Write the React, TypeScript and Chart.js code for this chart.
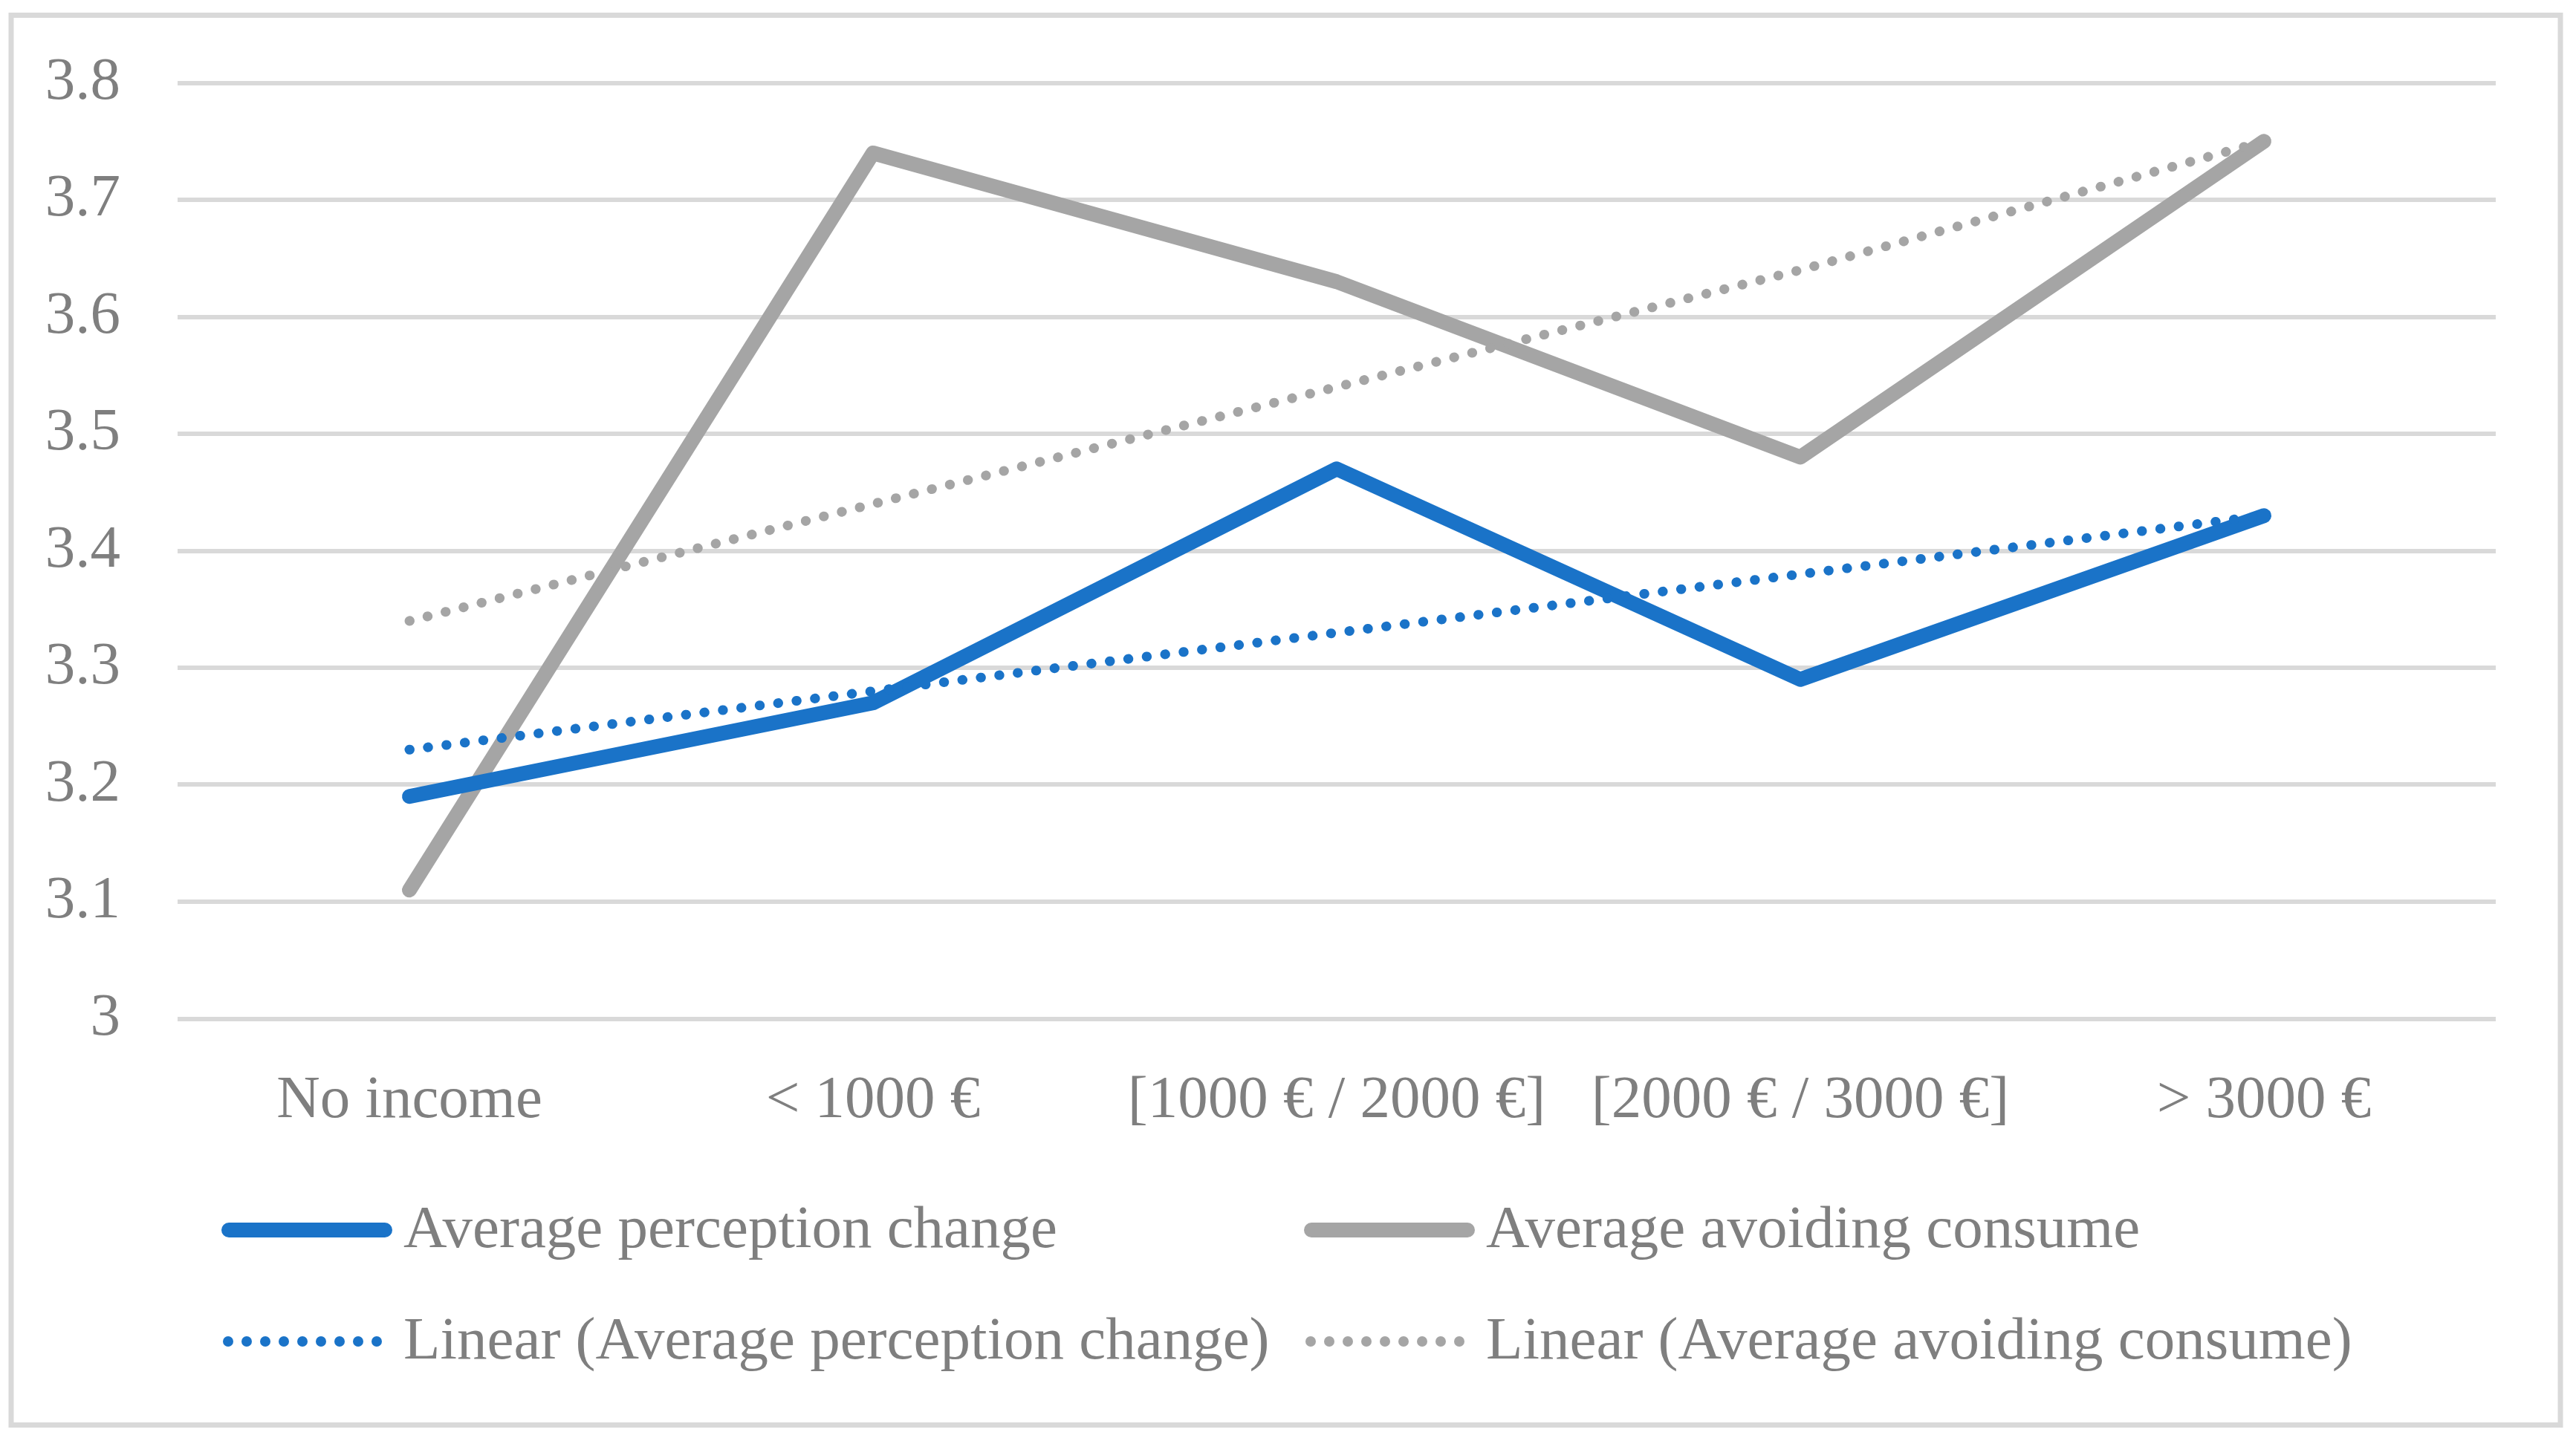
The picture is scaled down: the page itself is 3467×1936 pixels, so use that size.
import React, { useEffect, useRef } from 'react';
import { Chart, registerables } from 'chart.js';

Chart.register(...registerables);

const categories = ['No income', '< 1000 €', '[1000 € / 2000 €]', '[2000 € / 3000 €]', '> 3000 €'];
const perceptionChange = [3.19, 3.27, 3.47, 3.29, 3.43];
const avoidingConsume = [3.11, 3.74, 3.63, 3.48, 3.75];
const perceptionTrend = [3.23, 3.28, 3.33, 3.38, 3.43];
const avoidingTrend = [3.34, 3.44, 3.54, 3.64, 3.75];
const seriesLabels = [
  'Average perception change',
  'Average avoiding consume',
  'Linear (Average perception change)',
  'Linear (Average avoiding consume)',
];
const yMin = 3;
const yMax = 3.8;
const yStep = 0.1;

const W = 3467;
const H = 1936;
const FONT = "'Liberation Serif', 'Times New Roman', serif";
const FONT_SIZE = 81;
const TEXT = '#7f7f7f';
const BLUE = '#1a73c8';
const GRAY = '#a5a5a5';
const GRID = '#d9d9d9';

const framePlugin = {
  id: 'frame',
  beforeDraw(chart: any) {
    const ctx = chart.ctx;
    ctx.save();
    ctx.fillStyle = '#ffffff';
    ctx.fillRect(0, 0, chart.width, chart.height);
    ctx.strokeStyle = GRID;
    ctx.lineWidth = 7;
    ctx.strokeRect(15, 20.5, 3431, 1898);
    ctx.restore();
  },
};

const legendPlugin = {
  id: 'customLegend',
  afterDraw(chart: any) {
    const ctx = chart.ctx;
    const cols = [298, 1755];
    const rowMid = [1656, 1806];
    const rowBase = [1679, 1829];
    const layout = [
      { ds: 0, col: 0, row: 0 },
      { ds: 1, col: 1, row: 0 },
      { ds: 2, col: 0, row: 1 },
      { ds: 3, col: 1, row: 1 },
    ];
    ctx.save();
    layout.forEach(({ ds, col, row }) => {
      const d = chart.data.datasets[ds];
      const x = cols[col];
      const cy = rowMid[row];
      ctx.strokeStyle = d.borderColor;
      ctx.fillStyle = d.borderColor;
      if (d.borderDash && d.borderDash.length) {
        for (let i = 0; i < 9; i++) {
          ctx.beginPath();
          ctx.arc(x + 9 + i * 25, cy, 7, 0, Math.PI * 2);
          ctx.fill();
        }
      } else {
        ctx.lineWidth = d.borderWidth;
        ctx.lineCap = 'round';
        ctx.beginPath();
        ctx.moveTo(x + 10, cy);
        ctx.lineTo(x + 220, cy);
        ctx.stroke();
      }
      ctx.fillStyle = TEXT;
      ctx.font = `${FONT_SIZE}px ${FONT}`;
      ctx.textAlign = 'left';
      ctx.textBaseline = 'alphabetic';
      ctx.fillText(d.label, x + 245, rowBase[row]);
    });
    ctx.restore();
  },
};

export default function App() {
  const ref = useRef<HTMLCanvasElement | null>(null);

  useEffect(() => {
    if (!ref.current) return;
    const chart = new Chart(ref.current, {
      type: 'line',
      data: {
        labels: categories,
        datasets: [
          {
            label: seriesLabels[0],
            data: perceptionChange,
            borderColor: BLUE,
            backgroundColor: BLUE,
            borderWidth: 20,
            borderCapStyle: 'round',
            borderJoinStyle: 'round',
            pointRadius: 0,
            tension: 0,
            order: 1,
          },
          {
            label: seriesLabels[1],
            data: avoidingConsume,
            borderColor: GRAY,
            backgroundColor: GRAY,
            borderWidth: 20,
            borderCapStyle: 'round',
            borderJoinStyle: 'round',
            pointRadius: 0,
            tension: 0,
            order: 1,
          },
          {
            label: seriesLabels[2],
            data: perceptionTrend,
            borderColor: BLUE,
            backgroundColor: BLUE,
            borderWidth: 13,
            borderDash: [0.5, 24.5],
            borderCapStyle: 'round',
            pointRadius: 0,
            tension: 0,
            order: 0,
          },
          {
            label: seriesLabels[3],
            data: avoidingTrend,
            borderColor: GRAY,
            backgroundColor: GRAY,
            borderWidth: 13,
            borderDash: [0.5, 24.5],
            borderCapStyle: 'round',
            pointRadius: 0,
            tension: 0,
            order: 0,
          },
        ],
      },
      options: {
        responsive: false,
        animation: false,
        devicePixelRatio: 1,
        layout: { autoPadding: false, padding: { top: 111.5, right: 108, bottom: 0, left: 0 } },
        plugins: {
          legend: { display: false },
          tooltip: { enabled: false },
        },
        scales: {
          x: {
            offset: true,
            grid: { display: false, drawTicks: false },
            border: { display: false },
            ticks: {
              color: TEXT,
              font: { family: FONT, size: FONT_SIZE },
              padding: 63,
              maxRotation: 0,
              autoSkip: false,
            },
            afterFit: (s: any) => {
              s.height = H - 1371.5;
              s.paddingLeft = 0;
              s.paddingRight = 0;
            },
          },
          y: {
            min: yMin,
            max: yMax,
            grid: { color: GRID, lineWidth: 6, drawTicks: false },
            border: { display: false },
            ticks: {
              stepSize: yStep,
              color: TEXT,
              font: { family: FONT, size: FONT_SIZE },
              padding: 77,
              callback: (v: any) => String(Number(Number(v).toFixed(1))),
            },
            afterFit: (s: any) => {
              s.width = 239;
              s.paddingTop = 0;
              s.paddingBottom = 0;
            },
          },
        },
      },
      plugins: [framePlugin, legendPlugin],
    } as any);
    return () => chart.destroy();
  }, []);

  return (
    <div style={{ position: 'fixed', left: 0, top: 0, width: W, height: H, background: '#fff' }}>
      <canvas ref={ref} width={W} height={H} style={{ width: W, height: H, display: 'block' }} />
    </div>
  );
}
